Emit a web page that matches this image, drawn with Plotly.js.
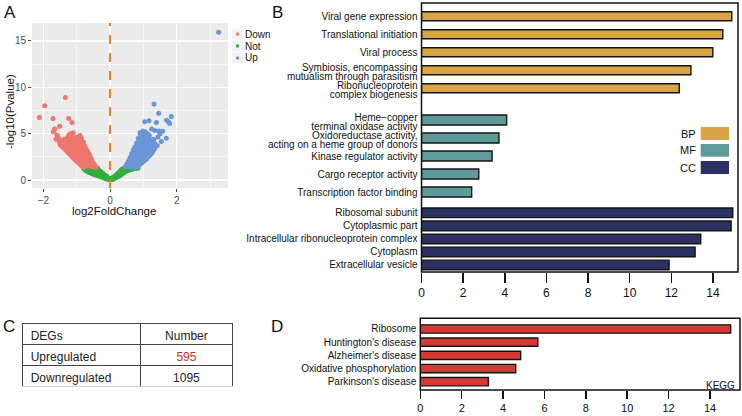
<!DOCTYPE html>
<html>
<head>
<meta charset="utf-8">
<script src="https://cdn.plot.ly/plotly-3.0.1.min.js"></script>
<style>html,body{margin:0;padding:0;background:#fff;}#chart{width:742px;height:416px;}</style>
</head>
<body>
<div id="chart"></div>
<script>
// ---------- Panel A: volcano data ----------
const notX = [-0.78,-0.74,-0.72,-0.7,-0.68,-0.66,-0.64,-0.62,-0.6,-0.58,-0.56,-0.55,-0.53,-0.5,-0.5,-0.48,-0.46,-0.44,-0.42,-0.4,-0.4,-0.38,-0.36,-0.34,-0.32,-0.3,-0.28,-0.26,-0.24,-0.22,-0.2,-0.18,-0.16,-0.14,-0.12,-0.1,-0.08,-0.06,-0.04,-0.02,0.0,0.02,0.04,0.06,0.08,0.1,0.12,0.14,0.16,0.18,0.2,0.22,0.24,0.26,0.28,0.3,0.32,0.34,0.36,0.38,0.4,0.42,0.44,0.46,0.48,0.5,0.52,0.55,0.58,0.6,0.64,0.68,0.72,0.8,-0.76,-0.65,-0.52,-0.45,0.35,0.5,0.62,0.7,
  -0.8,-0.77,-0.75,-0.73,-0.71,-0.69,-0.67,-0.65,-0.63,-0.61,-0.59,-0.57,-0.54,-0.52,-0.51,-0.49,-0.47,-0.45,-0.43,-0.41,-0.39,-0.37,-0.35,-0.33,-0.31,-0.29,-0.27,-0.25,-0.23,-0.21,-0.19,-0.17,-0.15,-0.13,-0.11,-0.09,-0.07,-0.05,-0.03,-0.01,0.01,0.03,0.05,0.07,0.09,0.11,0.13,0.15,0.17,0.19,0.21,0.23,0.25,0.27,0.29,0.31,0.33,0.35,0.37,0.39,0.41,0.43,0.45,0.47,0.49,0.51,0.54,0.57,0.6,0.63,0.66,0.7,0.74,0.77,0.84];
const notY = [1.22,1.1,1.25,1.0,1.15,0.9,1.2,0.82,1.05,0.75,1.2,0.95,0.68,1.1,0.85,0.6,1.0,0.75,0.52,1.2,0.9,0.62,0.45,0.8,0.55,0.38,0.65,0.45,0.3,0.52,0.35,0.22,0.4,0.25,0.15,0.28,0.12,0.18,0.06,0.1,0.02,0.08,0.14,0.05,0.2,0.12,0.3,0.2,0.4,0.28,0.5,0.35,0.6,0.42,0.72,0.5,0.85,0.6,1.0,0.7,1.15,0.8,1.25,0.9,1.1,1.0,1.22,1.05,1.25,1.12,1.2,1.28,1.25,1.28,1.3,1.28,1.3,1.28,0.9,1.2,1.28,1.3,
  1.3,1.18,1.28,1.05,1.18,0.95,1.28,1.05,0.88,1.25,0.95,1.1,0.82,1.25,0.72,0.95,1.2,0.62,1.1,0.7,0.95,1.28,0.6,1.05,0.72,0.45,0.9,0.55,0.38,0.7,0.45,0.3,0.55,0.32,0.2,0.38,0.2,0.1,0.16,0.05,0.04,0.12,0.2,0.1,0.28,0.2,0.38,0.28,0.5,0.36,0.62,0.45,0.75,0.55,0.9,0.65,1.05,0.75,1.2,0.85,1.0,0.9,1.15,1.02,1.25,1.1,1.2,1.12,1.28,1.15,1.25,1.2,1.3,1.27,1.3];

const downX = [-0.78,-0.82,-0.85,-0.88,-0.92,-0.95,-0.98,-1.02,-1.06,-1.1,-1.14,-1.18,-1.22,-1.27,-1.32,-1.37,-1.42,-1.48,
  -0.42,-0.45,-0.5,-0.55,-0.6,-0.63,-0.68,-0.72,-0.76,-0.8,-0.86,-0.9,
  -0.5,-0.55,-0.6,-0.58,-0.62,-0.65,-0.67,-0.7,-0.7,-0.72,-0.74,-0.75,-0.77,-0.78,-0.8,-0.82,-0.84,-0.85,-0.86,-0.88,-0.9,-0.9,-0.92,-0.94,-0.95,-0.96,-0.98,-1.0,-1.0,-1.02,-1.04,-1.05,-1.07,-1.08,-1.1,-1.1,-1.12,-1.14,-1.15,-1.17,-1.2,-1.2,-1.22,-1.25,-1.26,-1.28,-1.3,-1.32,-1.34,-1.36,-1.38,-1.4,-1.44,-1.46,-0.66,-0.73,-0.79,-0.83,-0.87,-0.93,-0.97,-1.03,-1.06,-1.18,-1.24,-0.88,
  -0.45,-0.48,-0.52,-0.53,-0.57,-0.57,-0.61,-0.61,-0.64,-0.64,-0.66,-0.69,-0.69,-0.71,-0.73,-0.75,-0.76,-0.77,-0.79,-0.81,-0.81,-0.83,-0.83,-0.85,-0.87,-0.89,-0.89,-0.91,-0.91,-0.93,-0.94,-0.96,-0.97,-0.99,-0.99,-1.01,-1.01,-1.03,-1.05,-1.05,-1.07,-1.09,-1.09,-1.11,-1.12,-1.13,-1.16,-1.16,-1.19,-1.19,-1.21,-1.23,-1.24,-1.27,-1.29,-1.31,-1.33,-1.35,-1.39,-1.41,-1.43,-1.47,-1.5,-1.52,-1.28,-1.15,-1.0,-0.95,
  -1.34,-1.96,-2.12,-1.71,-1.24,-1.14,-1.51,-1.70,-1.66,-1.59,-1.24,-1.19,-1.10,-1.34,-1.55,-1.62];
const downY = [1.35,1.45,1.55,1.65,1.78,1.88,1.98,2.1,2.25,2.4,2.55,2.7,2.85,3.0,3.2,3.4,3.55,3.75,
  1.35,1.55,1.8,2.15,2.5,2.8,3.1,3.4,3.7,4.1,4.5,4.8,
  1.4,1.6,1.5,1.9,2.1,1.7,2.4,2.0,2.7,1.6,2.3,3.0,1.9,2.6,3.3,2.2,2.9,3.6,1.8,2.5,3.1,4.0,2.2,2.8,3.5,4.3,2.5,3.0,3.8,4.5,2.7,3.3,4.1,2.5,3.0,3.6,4.4,2.9,3.3,3.9,3.1,4.2,3.6,3.3,4.0,3.7,4.3,3.5,3.9,4.4,3.8,4.1,3.9,4.2,3.0,2.0,3.7,4.0,3.3,3.9,3.2,3.6,2.9,4.6,4.6,4.6,
  1.4,1.65,1.5,1.9,1.75,2.3,2.0,2.65,1.6,2.5,2.2,1.8,2.9,2.4,3.2,1.7,2.7,3.4,2.1,2.9,3.9,1.6,3.3,2.6,4.2,2.0,3.6,2.9,4.4,2.5,3.3,2.1,3.8,2.8,4.6,2.3,3.4,4.1,2.5,3.9,3.1,4.6,2.8,3.4,4.0,2.7,3.6,4.3,2.9,3.5,4.0,3.0,4.3,3.5,4.0,3.3,4.2,3.6,3.6,4.3,3.7,4.0,3.9,4.1,4.5,4.6,4.4,4.6,
  8.9,8.0,6.75,6.65,6.65,6.2,5.8,5.2,5.5,4.85,4.85,5.0,5.1,4.4,4.6,4.4];

const upX = [0.75,0.8,0.85,0.9,0.95,1.0,1.05,1.1,1.15,1.2,1.25,1.3,1.34,
  0.45,0.5,0.55,0.6,0.65,0.7,0.75,0.8,0.85,0.9,
  0.55,0.6,0.62,0.65,0.68,0.7,0.72,0.74,0.76,0.78,0.78,0.8,0.82,0.83,0.85,0.86,0.88,0.88,0.9,0.9,0.92,0.93,0.95,0.95,0.97,0.98,1.0,1.0,1.02,1.03,1.05,1.06,1.08,1.1,1.1,1.12,1.14,1.15,1.17,1.18,1.2,1.22,1.24,1.26,1.28,1.3,1.32,0.96,1.05,1.12,0.92,
  0.5,0.53,0.57,0.57,0.6,0.61,0.63,0.64,0.66,0.67,0.69,0.69,0.71,0.71,0.73,0.73,0.75,0.77,0.77,0.79,0.79,0.81,0.81,0.83,0.84,0.85,0.87,0.87,0.89,0.89,0.91,0.91,0.93,0.94,0.96,0.96,0.98,0.99,1.01,1.01,1.03,1.04,1.06,1.07,1.09,1.11,1.12,1.13,1.16,1.16,1.19,1.19,1.21,1.23,1.25,1.27,1.29,1.31,1.33,1.36,1.08,0.99,1.15,
  1.32,1.46,1.84,1.7,1.75,1.79,1.04,1.17,1.39,1.34,1.46,1.58,1.69,1.44,1.54,1.42,3.26,1.25,1.5];
const upY = [1.3,1.42,1.55,1.7,1.85,2.0,2.15,2.3,2.5,2.7,2.9,3.15,3.4,
  1.4,1.7,2.0,2.4,2.8,3.2,3.6,4.0,4.5,5.1,
  1.45,1.8,1.4,2.1,1.6,2.5,1.9,2.9,2.2,1.6,3.2,2.6,1.9,3.5,2.3,2.9,3.8,1.9,2.6,4.3,3.2,2.1,3.6,4.6,2.5,4.1,3.0,4.9,2.4,3.5,4.3,2.8,3.9,4.7,3.2,2.6,3.6,4.2,3.0,4.8,3.4,4.0,3.2,3.7,4.3,3.5,4.0,5.0,5.2,5.0,4.9,
  1.45,1.6,1.55,2.1,1.5,2.0,2.5,1.7,2.3,2.9,1.5,2.0,2.7,3.3,1.7,2.4,3.1,1.9,3.6,2.3,2.9,3.3,3.9,2.1,2.7,4.1,3.1,2.2,3.5,4.6,2.0,2.9,3.8,4.3,2.3,3.3,2.8,3.8,4.4,2.6,3.1,4.7,3.6,2.5,4.1,2.9,3.5,4.5,3.3,3.9,2.9,4.4,3.7,2.9,4.0,3.3,3.8,4.4,3.6,3.9,5.1,5.3,4.9,
  8.2,7.2,6.85,6.45,6.3,6.1,6.3,6.4,6.2,5.35,5.3,5.25,4.5,4.65,4.15,3.7,15.95,5.5,5.0];

const volcanoGroups = ['Down','Not','Up'];

// ---------- Panel B: GO enrichment ----------
const bpTerms = ['Viral gene expression','Translational initiation','Viral process','Symbiosis, encompassing<br>mutualism through parasitism','Ribonucleoprotein<br>complex biogenesis'];
const bpValues = [14.9, 14.47, 13.99, 12.94, 12.38];
const mfTerms = ['Heme\u2212copper<br>terminal oxidase activity','Oxidoreductase activity,<br>acting on a heme group of donors','Kinase regulator activity','Cargo receptor activity','Transcription factor binding'];
const mfValues = [4.09, 3.72, 3.39, 2.75, 2.41];
const ccTerms = ['Ribosomal subunit','Cytoplasmic part','Intracellular ribonucleoprotein complex','Cytoplasm','Extracellular vesicle'];
const ccValues = [14.95, 14.87, 13.41, 13.14, 11.89];
const goGroups = ['BP','MF','CC'];
const goTicks = [0,2,4,6,8,10,12,14];

// ---------- Panel C: table ----------
const tableHeader = ['DEGs','Number'];
const degTypes = ['Upregulated','Downregulated'];
const degCounts = [595, 1095];

// ---------- Panel D: KEGG ----------
const keggTerms = ['Ribosome',"Huntington's disease","Alzheimer's disease",'Oxidative phosphorylation',"Parkinson's disease"];
const keggValues = [15.0, 5.68, 4.85, 4.61, 3.29];

// ---------- styling ----------
const W = 742, H = 416;
const X = p => p / W;
const Y = p => 1 - p / H;
const FONT = 'Liberation Sans, Arial, Helvetica, sans-serif';
const C_DOWN = '#EE766C', C_NOT = '#2FAF3E', C_UP = '#6A96D6';
const C_BP = '#D9A443', C_MF = '#5E9A99', C_CC = '#2C3163', C_KEGG = '#D43A33';
const EDGE = {color:'#151515', width:1.4};
const MS = 5;

const traces = [
  {type:'scatter', mode:'markers', name:'Not', x:notX, y:notY, xaxis:'x', yaxis:'y',
   marker:{color:C_NOT, size:MS}, showlegend:false},
  {type:'scatter', mode:'markers', name:'Down', x:downX, y:downY, xaxis:'x', yaxis:'y',
   marker:{color:C_DOWN, size:MS}, showlegend:false},
  {type:'scatter', mode:'markers', name:'Up', x:upX, y:upY, xaxis:'x', yaxis:'y',
   marker:{color:C_UP, size:MS}, showlegend:false},
  {type:'bar', orientation:'h', name:'BP', x:bpValues, y:bpTerms, xaxis:'x2', yaxis:'y2', width:0.5,
   marker:{color:C_BP, line:EDGE}, showlegend:false},
  {type:'bar', orientation:'h', name:'MF', x:mfValues, y:mfTerms, xaxis:'x2', yaxis:'y3', width:0.55,
   marker:{color:C_MF, line:EDGE}, showlegend:false},
  {type:'bar', orientation:'h', name:'CC', x:ccValues, y:ccTerms, xaxis:'x2', yaxis:'y4', width:0.74,
   marker:{color:C_CC, line:EDGE}, showlegend:false},
  {type:'bar', orientation:'h', name:'KEGG', x:keggValues, y:keggTerms, xaxis:'x3', yaxis:'y5', width:0.63,
   marker:{color:C_KEGG, line:EDGE}, showlegend:false},
  {type:'table', domain:{x:[X(22.7), X(233)], y:[Y(386.7), Y(323.3)]}, columnwidth:[117.6, 92.7],
   header:{values:tableHeader, align:['left','center'], height:21,
     font:{family:FONT, size:12, color:'#222'}, fill:{color:'white'}, line:{color:'#444', width:1}},
   cells:{values:[degTypes, degCounts], align:['left','center'], height:21,
     font:{family:FONT, size:12, color:[['#222','#222'],['#D2302B','#222']]},
     fill:{color:'white'}, line:{color:'#444', width:1}}}
];

const catY = (dom) => ({domain:dom, anchor:'x2', type:'category', autorange:'reversed',
  showgrid:false, zeroline:false, showline:false, ticks:'', ticklabelstandoff:3,
  tickfont:{family:FONT, size:10, color:'#111'}});

const layout = {
  width:W, height:H, margin:{l:0, r:0, t:0, b:0},
  paper_bgcolor:'white', plot_bgcolor:'rgba(0,0,0,0)',
  font:{family:FONT, color:'#111'},
  showlegend:false,
  xaxis:{domain:[X(32), X(228)], range:[-2.34, 3.54], anchor:'y', tick0:0, dtick:2,
    showgrid:true, gridcolor:'white', gridwidth:1.3, zeroline:false, showline:false,
    minor:{dtick:1, showgrid:true, gridcolor:'white', gridwidth:0.6},
    ticks:'outside', ticklen:3, tickcolor:'#444', tickfont:{family:FONT, size:10, color:'#4D4D4D'}},
  yaxis:{domain:[Y(188), Y(23)], range:[-0.86, 16.94], anchor:'x', tick0:0, dtick:5,
    showgrid:true, gridcolor:'white', gridwidth:1.3, zeroline:false, showline:false,
    minor:{dtick:2.5, showgrid:true, gridcolor:'white', gridwidth:0.6},
    ticks:'outside', ticklen:3, tickcolor:'#444', tickfont:{family:FONT, size:10, color:'#4D4D4D'}},
  xaxis2:{domain:[X(421.5), X(738)], range:[0, 15.2], anchor:'free', position:Y(272),
    tickvals:goTicks, showgrid:false, zeroline:false, showline:false,
    ticks:'outside', ticklen:10, tickwidth:1.5, tickcolor:'#111', tickfont:{family:FONT, size:12, color:'#111'}},
  yaxis2:catY([Y(97.2), Y(7.2)]),
  yaxis3:catY([Y(201), Y(111)]),
  yaxis4:catY([Y(271.5), Y(206.3)]),
  xaxis3:{domain:[X(420.3), X(740)], range:[0, 15.45], anchor:'free', position:Y(390),
    tickvals:goTicks, showgrid:false, zeroline:false, showline:false,
    ticks:'outside', ticklen:8, tickwidth:1.5, tickcolor:'#111', tickfont:{family:FONT, size:11, color:'#111'}},
  yaxis5:Object.assign(catY([Y(388.3), Y(322.4)]), {anchor:'x3'}),
  shapes:[
    {type:'rect', xref:'x domain', yref:'y domain', x0:0, x1:1, y0:0, y1:1, layer:'below',
     fillcolor:'#EBEBEB', line:{width:0}},
    {type:'line', xref:'x', yref:'y domain', x0:0, x1:0, y0:0, y1:1,
     line:{color:'#E8801F', width:2, dash:'dash'}},
    {type:'rect', xref:'paper', yref:'paper', x0:X(232), x1:X(243), y0:Y(39.5), y1:Y(28.5), fillcolor:'#F2F2F2', line:{width:0}, layer:'below'},
    {type:'rect', xref:'paper', yref:'paper', x0:X(232), x1:X(243), y0:Y(51.5), y1:Y(40.5), fillcolor:'#F2F2F2', line:{width:0}, layer:'below'},
    {type:'rect', xref:'paper', yref:'paper', x0:X(232), x1:X(243), y0:Y(63.5), y1:Y(52.5), fillcolor:'#F2F2F2', line:{width:0}, layer:'below'},
    {type:'circle', xref:'paper', yref:'paper', x0:X(235.8), x1:X(239.2), y0:Y(35.7), y1:Y(32.3), fillcolor:C_DOWN, line:{width:0}},
    {type:'circle', xref:'paper', yref:'paper', x0:X(235.8), x1:X(239.2), y0:Y(47.7), y1:Y(44.3), fillcolor:C_NOT, line:{width:0}},
    {type:'circle', xref:'paper', yref:'paper', x0:X(235.8), x1:X(239.2), y0:Y(59.7), y1:Y(56.3), fillcolor:C_UP, line:{width:0}},
    {type:'rect', xref:'paper', yref:'paper', x0:X(421.5), x1:X(738), y0:Y(272), y1:Y(3),
     line:{color:'#111', width:1.5}, fillcolor:'rgba(0,0,0,0)'},
    {type:'rect', xref:'paper', yref:'paper', x0:X(700.7), x1:X(729), y0:Y(140), y1:Y(127), fillcolor:C_BP, line:{width:0}},
    {type:'rect', xref:'paper', yref:'paper', x0:X(700.7), x1:X(729), y0:Y(156.7), y1:Y(144), fillcolor:C_MF, line:{width:0}},
    {type:'rect', xref:'paper', yref:'paper', x0:X(700.7), x1:X(729), y0:Y(174), y1:Y(161), fillcolor:C_CC, line:{width:0}},
    {type:'rect', xref:'paper', yref:'paper', x0:X(420.3), x1:X(740), y0:Y(390), y1:Y(318.3),
     line:{color:'#111', width:1.5}, fillcolor:'rgba(0,0,0,0)'}
  ],
  annotations:[]
};

function note(text, px, py, opts) {
  layout.annotations.push(Object.assign({text:text, xref:'paper', yref:'paper', x:X(px), y:Y(py),
    xanchor:'center', yanchor:'middle', showarrow:false, font:{family:FONT, size:12, color:'#111'}}, opts || {}));
}
note('A', 9.5, 12.5, {font:{family:FONT, size:17, color:'#111'}});
note('B', 277, 12, {font:{family:FONT, size:17, color:'#111'}});
note('C', 9, 326, {font:{family:FONT, size:17, color:'#111'}});
note('D', 276.5, 326.5, {font:{family:FONT, size:17, color:'#111'}});
note('-log10(Pvalue)', 10, 112, {textangle:-90, font:{family:FONT, size:11.5, color:'#111'}});
note('log2FoldChange', 114, 211, {font:{family:FONT, size:11.5, color:'#111'}});
volcanoGroups.forEach((g, i) => note(g, 243, 34 + 12 * i, {xanchor:'left', font:{family:FONT, size:10, color:'#111'}}));
goGroups.forEach((g, i) => note(g, 698, [133.5, 150.3, 167.5][i], {xanchor:'right', font:{family:FONT, size:11, color:'#111'}}));
note('KEGG', 737, 385, {xanchor:'right', font:{family:FONT, size:10, color:'#111'}});

// tighten line spacing of two-line category labels (R-style lineheight ~0.85)
function tightenLabels() {
  const gd = document.getElementById('chart');
  gd.querySelectorAll('g.yaxislayer-above text, g[class$="tick"] text').forEach(t => {
    const lines = t.querySelectorAll('tspan.line');
    const n = lines.length;
    if (n < 2) return;
    const absolute = lines[1].hasAttribute('y');
    const LS = 1.3, NEW = 0.85, shift = (n - 1) * (LS - NEW) / 2 + 0.2;
    lines.forEach((ln, i) => {
      if (absolute) ln.setAttribute('dy', (shift + i * NEW).toFixed(3) + 'em');
      else ln.setAttribute('dy', (i === 0 ? shift : NEW).toFixed(3) + 'em');
    });
  });
}

Plotly.newPlot('chart', traces, layout, {staticPlot:true, displayModeBar:false}).then(tightenLabels);
</script>
</body>
</html>
